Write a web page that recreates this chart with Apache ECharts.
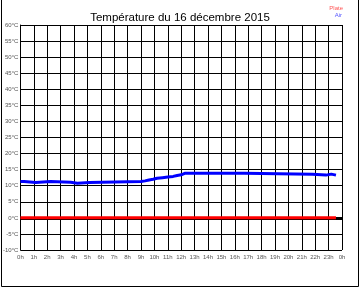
<!DOCTYPE html>
<html><head><meta charset="utf-8">
<script src="https://cdn.jsdelivr.net/npm/echarts@6/dist/echarts.min.js"></script>
<style>html,body{margin:0;padding:0;background:#fff}#c{width:360px;height:288px}</style>
</head><body><div id="c"></div>
<script>
const titleText = "Température du 16 décembre 2015";
const seriesNames = ["Plate", "Air"];
const airHours = [0, 0.27, 0.3, 1.15, 1.2, 2.25, 2.3, 3.75, 3.8, 4.25, 4.3, 5.15, 5.2, 9.0, 9.3, 9.6, 9.9, 10.2, 10.6, 11.0, 11.4, 11.7, 12.0, 12.3, 16.7, 16.75, 21.8, 21.85, 22.8, 22.85, 23.2, 23.25, 23.55];
const airTemps = [11.3, 11.3, 11.0, 11.0, 11.3, 11.3, 11.1, 11.1, 10.8, 10.8, 11.0, 11.0, 11.3, 11.3, 11.5, 11.8, 12.0, 12.3, 12.5, 12.7, 12.9, 13.2, 13.4, 13.9, 13.9, 13.6, 13.6, 13.3, 13.3, 13.6, 13.6, 13.3, 13.3];
const plateHours = [0, 23.55];
const plateTemps = [0, 0];
const yMin = -10, yMax = 60, yStep = 5;
const xMin = 0, xMax = 24, xStep = 1;

const chart = echarts.init(document.getElementById('c'), null, {renderer: 'canvas'});
const lblFont = {fontFamily: 'Liberation Sans, Arial, sans-serif', fontSize: 6, color: '#555'};
chart.setOption({
  animation: false,
  backgroundColor: '#fff',
  title: {text: titleText, left: 'center', top: 7,
    textStyle: {fontFamily: 'Liberation Sans, Arial, sans-serif', fontSize: 11.5, fontWeight: 'normal', color: '#000'}},
  grid: {left: 17, top: 25, right: 18, bottom: 38, containLabel: false},
  xAxis: {type: 'value', min: xMin, max: xMax, interval: xStep,
    axisLine: {show: true, lineStyle: {color: '#000', width: 1}},
    axisTick: {show: false},
    splitLine: {show: true, lineStyle: {color: '#000', width: 1}},
    axisLabel: Object.assign({margin: 4, formatter: v => (v % 24) + 'h'}, lblFont)},
  yAxis: {type: 'value', min: yMin, max: yMax, interval: yStep,
    axisLine: {show: true, lineStyle: {color: '#000', width: 1}},
    axisTick: {show: false},
    splitLine: {show: true, lineStyle: {color: '#000', width: 1}},
    axisLabel: Object.assign({margin: 2, formatter: v => v + '°C'}, lblFont)},
  series: [
    {name: seriesNames[0], type: 'line', showSymbol: false, z: 3,
      data: plateHours.map((h, i) => [h, plateTemps[i]]),
      lineStyle: {color: '#ff0000', width: 3},
      markLine: {silent: true, symbol: 'none', label: {show: false}, z: 2,
        lineStyle: {color: '#000', width: 3, type: 'solid'}, data: [{yAxis: 0}]}},
    {name: seriesNames[1], type: 'line', showSymbol: false, z: 4,
      data: airHours.map((h, i) => [h, airTemps[i]]),
      lineStyle: {color: '#0000ff', width: 3}}
  ],
  graphic: [
    {type: 'text', right: 17, top: 5, style: {text: seriesNames[0], fill: '#ff5555', font: '6px Liberation Sans, Arial, sans-serif', textAlign: 'right'}},
    {type: 'text', right: 18, top: 12, style: {text: seriesNames[1], fill: '#5555ff', font: '6px Liberation Sans, Arial, sans-serif', textAlign: 'right'}},
    {type: 'polyline', shape: {points: [[1.5, 0], [1.5, 286.5], [358.5, 286.5], [358.5, 0]]}, style: {stroke: '#000', lineWidth: 1, fill: null}}
  ]
});
</script></body></html>
